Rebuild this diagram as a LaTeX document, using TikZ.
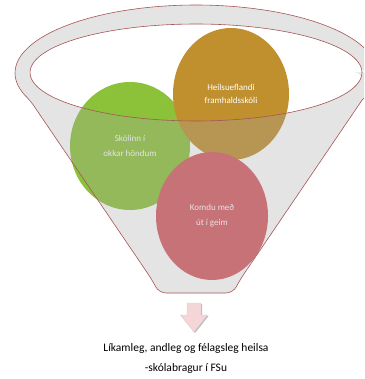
\documentclass[tikz,border=0pt]{standalone}
\usepackage{fontspec}
\setmainfont{Carlito}
\usetikzlibrary{shapes.geometric}
\definecolor{goldc}{RGB}{192,144,46}
\definecolor{greenc}{RGB}{140,194,58}
\definecolor{redc}{RGB}{214,92,98}
\definecolor{rimc}{RGB}{165,85,85}
\definecolor{func}{RGB}{165,165,170}
\definecolor{arrowc}{RGB}{245,214,216}
\begin{document}
\begin{tikzpicture}[x=1pt,y=-1pt,
  ball/.style={ellipse, inner sep=0pt, align=center, text=white},
  rim/.style={draw=rimc, line width=0.6pt},
  caption/.style={align=center, font=\fontsize{11.5}{20}\selectfont}]
\useasboundingbox (0,0) rectangle (364,379);
\clip (0,0) rectangle (364,379);
% balls
\node[ball, fill=greenc, minimum width=120pt, minimum height=128pt,
      font=\fontsize{9}{15}\selectfont] (green) at (130,146) {Skólinn í\\okkar höndum};
\node[ball, fill=goldc, minimum width=116pt, minimum height=132pt,
      font=\fontsize{9}{13}\selectfont] (gold) at (231,94) {Heilsueflandi\\framhaldsskóli};
\node[ball, fill=redc, minimum width=112pt, minimum height=128pt,
      font=\fontsize{9}{15}\selectfont] (red) at (212,216) {Komdu með\\út í geim};
% funnel overlay
\fill[func, fill opacity=0.3, even odd rule]
  plot[domain=156.6:383.4, samples=90] ({196+181*cos(\x)},{73+68*sin(\x)})
  [rounded corners=7pt] -- (240.5,279) -- (233,293) -- (159,293) -- (151.5,279) -- cycle
  plot[domain=0:360, samples=120] ({196+166*cos(\x)},{72.5+48.5*sin(\x)}) -- cycle;
\draw[rim]
  plot[domain=156.6:383.4, samples=90] ({196+181*cos(\x)},{73+68*sin(\x)})
  [rounded corners=7pt] -- (240.5,279) -- (233,293) -- (159,293) -- (151.5,279) -- cycle;
\draw[rim] plot[domain=0:360, samples=120] ({196+166*cos(\x)},{72.5+48.5*sin(\x)}) -- cycle;
% arrow
\fill[gray!55] (188,304) -- (202,304) -- (202,316) -- (208.5,316) -- (195,333) -- (181.5,316) -- (188,316) -- cycle;
\filldraw[fill=arrowc, draw=arrowc!85!gray, line width=0.4pt]
  (187,303) -- (201,303) -- (201,315) -- (207.5,315) -- (194,332) -- (180.5,315) -- (187,315) -- cycle;
% caption
\node[caption] (cap) at (186,358) {Líkamleg, andleg og félagsleg heilsa\\-skólabragur í FSu};
\end{tikzpicture}
\end{document}
